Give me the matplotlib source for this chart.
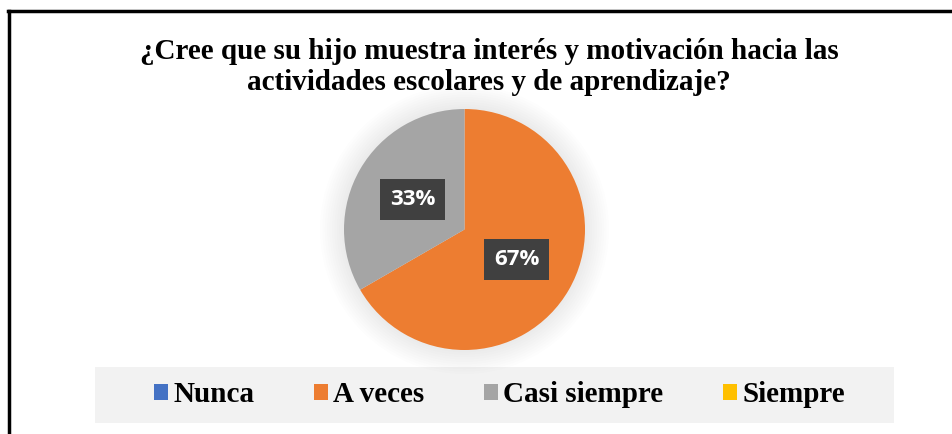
import matplotlib
matplotlib.use("Agg")
import matplotlib.pyplot as plt
from matplotlib.patches import Rectangle, Circle, Patch
from matplotlib.lines import Line2D

categories = ["Nunca", "A veces", "Casi siempre", "Siempre"]
counts = [0, 2, 1, 0]
colors = ["#4472C4", "#ED7D31", "#A5A5A5", "#FFC000"]
title = ("¿Cree que su hijo muestra interés y motivación hacia las\n"
         "actividades escolares y de aprendizaje?")

W, H = 953, 434
fig = plt.figure(figsize=(W / 100, H / 100), dpi=100)
fig.patch.set_facecolor("white")

# pie axes placed in pixel terms
cx, cy, r = 464.5, 229.5, 120.5
ax = fig.add_axes([(cx - r) / W, 1 - (cy + r) / H, 2 * r / W, 2 * r / H])

total = sum(counts)
vals = [c for c in counts if c > 0]
cols = [colors[i] for i, c in enumerate(counts) if c > 0]
wedges, texts = ax.pie(vals, colors=cols, startangle=90, counterclock=False,
                       radius=1, labels=[f"{v / total * 100:.0f}%" for v in vals],
                       labeldistance=0.5, wedgeprops=dict(linewidth=0))
ax.set_xlim(-1, 1)
ax.set_ylim(-1, 1)
ax.set_aspect("equal")
ax.axis("off")

# soft glow behind the pie
for i in range(10):
    ax.add_patch(Circle((0, 0.0), 1.0 + 0.02 * (i + 1), color="black",
                        alpha=0.008, lw=0, clip_on=False, zorder=0))

for w in wedges:
    w.set_zorder(2)
for t in texts:
    t.set_ha("center")
    t.set_va("center")
    t.set_color("white")
    t.set_fontsize(16)
    t.set_fontweight("bold")
    t.set_family("Open Sans")
    t.set_zorder(5)
    t.set_bbox(dict(boxstyle="square,pad=0.45", facecolor="#404040",
                    edgecolor="none"))

fig.text(489 / W, 1 - 67 / H, title, ha="center", va="center",
         fontsize=21, fontweight="bold", family="Liberation Serif",
         linespacing=1.22)

# legend background
fig.add_artist(Rectangle((95 / W, 1 - 423 / H), (894 - 95) / W, 56 / H,
                         transform=fig.transFigure, facecolor="#F2F2F2",
                         edgecolor="none", zorder=0))
handles = [Patch(facecolor=c, edgecolor="none") for c in colors]
fig.legend(handles, categories, loc="center", bbox_to_anchor=(499.5 / W, 1 - 395 / H),
           ncol=4, frameon=False, handlelength=0.48, handleheight=0.48,
           handletextpad=0.18, columnspacing=2.05,
           prop=dict(family="Liberation Serif", weight="bold", size=21))

# frame lines
fig.add_artist(Line2D([8 / W, 1], [1 - 11 / H, 1 - 11 / H], color="black", lw=2.5,
                      transform=fig.transFigure))
fig.add_artist(Line2D([9 / W, 9 / W], [0, 1 - 11 / H], color="black", lw=2.5,
                      transform=fig.transFigure))

fig.savefig("out.png", dpi=100)
